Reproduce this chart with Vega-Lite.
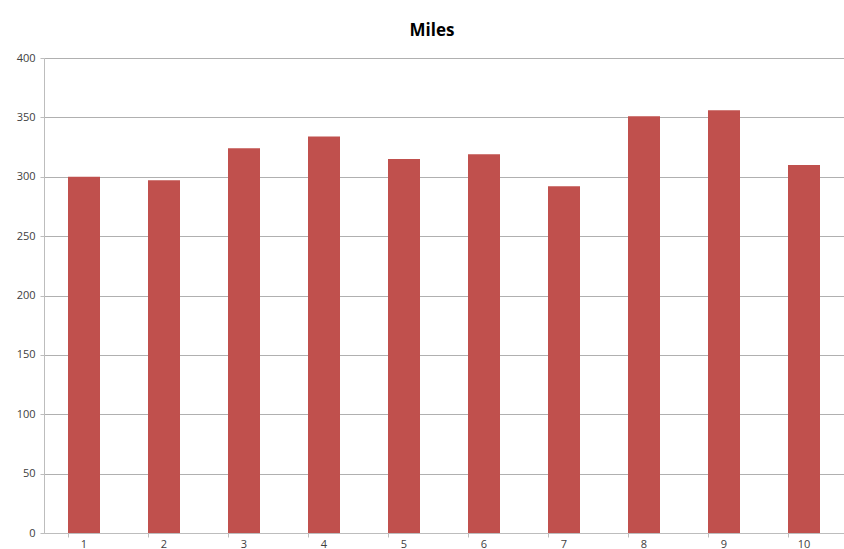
{
  "$schema": "https://vega.github.io/schema/vega-lite/v6.json",
  "width": 800,
  "height": 475,
  "autosize": {"type": "none"},
  "padding": {"left": 44, "top": 58, "right": 0, "bottom": 16},
  "background": "white",
  "title": {
    "text": "Miles",
    "font": "Open Sans",
    "fontSize": 17,
    "fontWeight": "bold",
    "color": "#000000",
    "anchor": "middle",
    "dx": -12,
    "offset": 12
  },
  "config": {
    "view": {"stroke": null},
    "axis": {
      "labelFont": "Open Sans",
      "labelFontSize": 11,
      "labelColor": "#404040",
      "domainColor": "#bdbdbd",
      "tickColor": "#bdbdbd",
      "gridColor": "#b0b0b0",
      "title": null
    }
  },
  "data": {
    "values": [
      {"trip": "1", "miles": 300},
      {"trip": "2", "miles": 297},
      {"trip": "3", "miles": 324},
      {"trip": "4", "miles": 334},
      {"trip": "5", "miles": 315},
      {"trip": "6", "miles": 319},
      {"trip": "7", "miles": 292},
      {"trip": "8", "miles": 351},
      {"trip": "9", "miles": 356},
      {"trip": "10", "miles": 310}
    ]
  },
  "mark": {"type": "bar", "color": "#c0504d"},
  "encoding": {
    "x": {
      "field": "trip",
      "type": "ordinal",
      "sort": null,
      "scale": {"paddingInner": 0.6, "paddingOuter": 0.3},
      "axis": {"labelAngle": 0, "bandPosition": 0, "tickSize": 4, "grid": false, "labelPadding": 1}
    },
    "y": {
      "field": "miles",
      "type": "quantitative",
      "scale": {"domain": [0, 400], "nice": false},
      "axis": {"values": [0, 50, 100, 150, 200, 250, 300, 350, 400], "tickSize": 4, "labelPadding": 5, "grid": true}
    }
  }
}
